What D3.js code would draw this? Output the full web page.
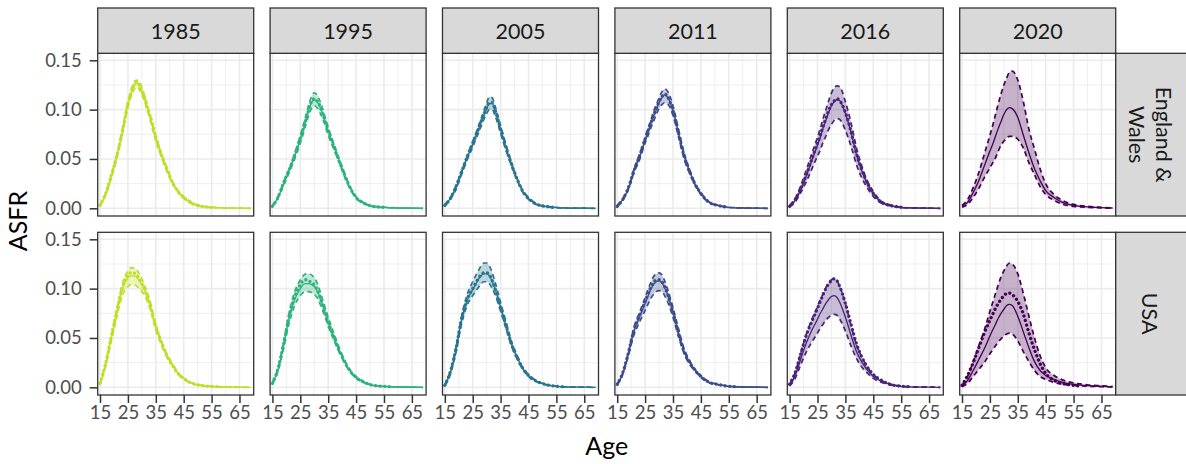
<!DOCTYPE html>
<html>
<head>
<meta charset="utf-8">
<style>
    body { margin: 0; background: #ffffff; }
    svg { font-family: Lato, "Open Sans", sans-serif; }
    .tick-label { fill: #4d4d4d; font-size: 18.5px; }
    .strip-label { fill: #1a1a1a; font-size: 21.5px; }
    .axis-title { fill: #000000; font-size: 25px; }
</style>
</head>
<body>
<svg width="1186" height="464"></svg>
<script src="https://d3js.org/d3.v7.min.js"></script>
<script>
    // facets
    var years = [1985, 1995, 2005, 2011, 2016, 2020];
    var countries = [['England &', 'Wales'], ['USA']];

    // ages for the fitted curves and for the observed rates
    var ages = [15, 17, 19, 21, 23, 25, 26, 27, 28, 29, 30, 31, 32, 33, 35, 37, 39, 41, 43, 45, 48, 51, 55, 60, 65, 69];
    var obsAges = [15, 17, 19, 21, 23, 25, 26, 27, 28, 29, 30, 31, 32, 33, 35, 37, 39, 41, 43, 45, 48, 51, 55, 58];

    var xTicks = [15, 25, 35, 45, 55, 65];
    var yTicks = [0, 0.05, 0.10, 0.15];

    // England & Wales: median, lower, upper, observed (one row per year)
    var medEW = [
        [0.003,0.014,0.032,0.052,0.078,0.105,0.115,0.123,0.127,0.125,0.119,0.111,0.102,0.092,0.071,0.054,0.039,0.026,0.017,0.011,0.005,0.002,0.001,0.0003,0.0001,0],
        [0.002,0.011,0.025,0.038,0.053,0.070,0.079,0.089,0.099,0.107,0.110,0.108,0.103,0.096,0.078,0.063,0.048,0.033,0.020,0.011,0.005,0.002,0.001,0.0003,0.0001,0],
        [0.003,0.010,0.021,0.036,0.051,0.065,0.072,0.079,0.087,0.094,0.101,0.106,0.106,0.099,0.080,0.061,0.044,0.029,0.017,0.010,0.004,0.002,0.0007,0.0002,0.0001,0],
        [0.002,0.009,0.020,0.038,0.052,0.069,0.077,0.085,0.093,0.100,0.107,0.112,0.115,0.113,0.099,0.076,0.053,0.037,0.024,0.015,0.006,0.003,0.001,0.0003,0.0001,0],
        [0.002,0.008,0.019,0.033,0.049,0.064,0.072,0.081,0.089,0.097,0.104,0.108,0.110,0.109,0.096,0.077,0.054,0.037,0.024,0.015,0.006,0.003,0.001,0.0003,0.0001,0],
        [0.002,0.006,0.016,0.028,0.043,0.058,0.065,0.073,0.081,0.088,0.095,0.100,0.102,0.101,0.092,0.074,0.056,0.040,0.028,0.018,0.011,0.006,0.003,0.0015,0.0007,0.0003]
    ];
    var loEW = [
        [0.002,0.013,0.030,0.050,0.075,0.102,0.112,0.119,0.123,0.121,0.115,0.108,0.099,0.089,0.068,0.052,0.037,0.025,0.016,0.010,0.0045,0.0018,0.0008,0.0002,0.0001,0],
        [0.0015,0.010,0.023,0.036,0.050,0.066,0.075,0.085,0.094,0.101,0.104,0.102,0.097,0.091,0.074,0.060,0.046,0.031,0.019,0.010,0.0045,0.0017,0.0008,0.0002,0.0001,0],
        [0.002,0.009,0.019,0.034,0.049,0.062,0.069,0.076,0.083,0.090,0.096,0.100,0.100,0.094,0.076,0.058,0.042,0.028,0.016,0.009,0.0035,0.0017,0.0005,0.0001,0.0001,0],
        [0.0015,0.008,0.019,0.036,0.049,0.066,0.073,0.081,0.088,0.095,0.101,0.105,0.107,0.106,0.094,0.072,0.050,0.035,0.023,0.014,0.0055,0.0027,0.0008,0.0002,0.0001,0],
        [0.0015,0.0065,0.016,0.027,0.040,0.053,0.059,0.067,0.073,0.080,0.085,0.089,0.091,0.090,0.079,0.063,0.044,0.030,0.020,0.012,0.005,0.0025,0.0008,0.0002,0.0001,0],
        [0.001,0.004,0.011,0.020,0.031,0.041,0.046,0.051,0.058,0.064,0.068,0.071,0.073,0.073,0.070,0.061,0.046,0.034,0.022,0.014,0.008,0.004,0.002,0.001,0.0005,0.0002]
    ];
    var hiEW = [
        [0.004,0.015,0.034,0.055,0.081,0.108,0.119,0.127,0.130,0.129,0.123,0.114,0.105,0.095,0.074,0.056,0.041,0.027,0.018,0.012,0.006,0.003,0.0012,0.0004,0.0001,0],
        [0.003,0.012,0.027,0.040,0.056,0.074,0.084,0.094,0.105,0.113,0.117,0.115,0.109,0.101,0.082,0.066,0.050,0.035,0.021,0.012,0.0055,0.0023,0.0011,0.0004,0.0001,0],
        [0.004,0.011,0.023,0.038,0.053,0.068,0.075,0.083,0.091,0.099,0.107,0.113,0.112,0.104,0.084,0.064,0.046,0.030,0.018,0.011,0.0045,0.0023,0.0009,0.0003,0.0001,0],
        [0.003,0.010,0.021,0.040,0.055,0.072,0.081,0.089,0.098,0.105,0.112,0.118,0.121,0.119,0.104,0.080,0.056,0.039,0.025,0.016,0.0065,0.0033,0.0012,0.0004,0.0001,0],
        [0.003,0.010,0.023,0.039,0.056,0.072,0.081,0.091,0.100,0.109,0.117,0.122,0.124,0.123,0.108,0.087,0.061,0.042,0.027,0.017,0.007,0.0035,0.0012,0.0004,0.0001,0],
        [0.003,0.009,0.021,0.036,0.055,0.074,0.084,0.095,0.106,0.116,0.125,0.132,0.138,0.139,0.130,0.108,0.080,0.060,0.040,0.025,0.014,0.008,0.004,0.002,0.0009,0.0004]
    ];
    var obsEW = [
        [0.003,0.015,0.033,0.053,0.077,0.106,0.116,0.124,0.128,0.126,0.118,0.112,0.101,0.093,0.072,0.054,0.040,0.026,0.017,0.011,0.005,0.002,0.001],
        [0.002,0.011,0.026,0.039,0.054,0.071,0.080,0.090,0.100,0.108,0.111,0.109,0.104,0.096,0.079,0.063,0.047,0.033,0.020,0.011,0.005,0.002,0.001],
        [0.003,0.010,0.022,0.037,0.052,0.066,0.073,0.080,0.088,0.095,0.102,0.107,0.107,0.100,0.080,0.061,0.044,0.029,0.017,0.010,0.004,0.002,0.0007],
        [0.002,0.009,0.021,0.038,0.053,0.070,0.078,0.086,0.094,0.101,0.108,0.113,0.116,0.113,0.099,0.076,0.053,0.037,0.024,0.015,0.006,0.003,0.001],
        [0.002,0.009,0.020,0.034,0.050,0.066,0.074,0.083,0.091,0.099,0.105,0.109,0.111,0.109,0.097,0.078,0.055,0.038,0.025,0.015,0.006,0.003,0.001],
        null
    ];

    // USA
    var medUS = [
        [0.003,0.023,0.049,0.075,0.099,0.111,0.113,0.113,0.112,0.108,0.104,0.098,0.091,0.083,0.061,0.045,0.032,0.023,0.014,0.009,0.004,0.002,0.001,0.0003,0.0001,0],
        [0.004,0.018,0.042,0.070,0.089,0.100,0.104,0.105,0.105,0.104,0.102,0.098,0.091,0.083,0.066,0.051,0.037,0.025,0.016,0.010,0.005,0.002,0.001,0.0003,0.0001,0],
        [0.002,0.015,0.038,0.068,0.088,0.099,0.104,0.109,0.113,0.115,0.115,0.113,0.107,0.100,0.081,0.062,0.043,0.030,0.019,0.012,0.006,0.003,0.001,0.0003,0.0001,0],
        [0.003,0.014,0.034,0.057,0.071,0.085,0.092,0.099,0.104,0.107,0.108,0.106,0.101,0.094,0.076,0.055,0.036,0.025,0.017,0.011,0.005,0.003,0.001,0.0003,0.0001,0],
        [0.002,0.012,0.029,0.045,0.058,0.069,0.075,0.080,0.085,0.089,0.092,0.093,0.091,0.086,0.071,0.053,0.036,0.025,0.017,0.011,0.006,0.003,0.001,0.0003,0.0001,0],
        [0.001,0.007,0.017,0.028,0.039,0.052,0.058,0.064,0.070,0.075,0.079,0.083,0.084,0.083,0.072,0.056,0.040,0.026,0.017,0.012,0.008,0.005,0.003,0.0017,0.001,0.0005]
    ];
    var loUS = [
        [0.002,0.021,0.046,0.071,0.093,0.102,0.104,0.104,0.103,0.100,0.097,0.093,0.087,0.079,0.058,0.043,0.030,0.022,0.013,0.0085,0.0037,0.0018,0.0009,0.0002,0.0001,0],
        [0.003,0.016,0.039,0.065,0.083,0.093,0.096,0.097,0.097,0.096,0.094,0.091,0.085,0.078,0.062,0.048,0.035,0.024,0.015,0.009,0.0045,0.0018,0.0008,0.0002,0.0001,0],
        [0.0015,0.013,0.035,0.064,0.083,0.093,0.097,0.101,0.105,0.107,0.107,0.105,0.100,0.094,0.077,0.059,0.041,0.028,0.018,0.011,0.0055,0.0027,0.0009,0.0002,0.0001,0],
        [0.002,0.013,0.032,0.053,0.066,0.078,0.084,0.090,0.094,0.097,0.098,0.097,0.093,0.087,0.071,0.051,0.034,0.023,0.016,0.010,0.0045,0.0027,0.0008,0.0002,0.0001,0],
        [0.0015,0.009,0.023,0.036,0.046,0.055,0.060,0.064,0.068,0.071,0.073,0.074,0.073,0.069,0.057,0.042,0.029,0.020,0.014,0.009,0.005,0.0025,0.0008,0.0002,0.0001,0],
        [0.0005,0.004,0.011,0.018,0.025,0.034,0.038,0.042,0.046,0.049,0.052,0.054,0.055,0.054,0.047,0.036,0.026,0.017,0.011,0.008,0.005,0.003,0.002,0.0011,0.0006,0.0003]
    ];
    var hiUS = [
        [0.004,0.025,0.052,0.079,0.105,0.118,0.121,0.121,0.120,0.115,0.110,0.103,0.096,0.087,0.064,0.047,0.034,0.024,0.015,0.0095,0.0045,0.0022,0.0011,0.0004,0.0001,0],
        [0.005,0.020,0.046,0.076,0.097,0.109,0.113,0.115,0.115,0.114,0.111,0.106,0.098,0.089,0.071,0.055,0.040,0.027,0.017,0.011,0.0055,0.0023,0.0011,0.0004,0.0001,0],
        [0.003,0.017,0.041,0.072,0.094,0.107,0.113,0.118,0.123,0.126,0.126,0.123,0.116,0.107,0.086,0.066,0.046,0.032,0.020,0.013,0.0065,0.0033,0.0011,0.0004,0.0001,0],
        [0.004,0.015,0.036,0.061,0.076,0.091,0.099,0.106,0.112,0.115,0.116,0.114,0.108,0.100,0.081,0.059,0.039,0.027,0.018,0.012,0.0055,0.0033,0.0012,0.0004,0.0001,0],
        [0.003,0.015,0.035,0.054,0.069,0.082,0.089,0.095,0.101,0.106,0.109,0.110,0.108,0.102,0.085,0.063,0.043,0.030,0.020,0.013,0.007,0.0035,0.0012,0.0004,0.0001,0],
        [0.002,0.011,0.026,0.042,0.058,0.077,0.086,0.095,0.104,0.112,0.118,0.123,0.126,0.125,0.115,0.095,0.072,0.050,0.032,0.020,0.012,0.0075,0.0045,0.0025,0.0015,0.0008]
    ];
    var obsUS = [
        [0.004,0.024,0.051,0.077,0.101,0.114,0.116,0.116,0.114,0.110,0.105,0.099,0.092,0.083,0.062,0.046,0.032,0.022,0.014,0.009,0.004,0.002,0.001,0.0005],
        [0.004,0.019,0.044,0.072,0.092,0.104,0.108,0.109,0.108,0.106,0.104,0.099,0.092,0.084,0.066,0.051,0.037,0.025,0.016,0.010,0.005,0.002,0.001,0.0005],
        [0.002,0.016,0.039,0.069,0.089,0.100,0.105,0.110,0.114,0.116,0.116,0.114,0.108,0.100,0.081,0.062,0.043,0.030,0.019,0.012,0.006,0.003,0.001,0.0005],
        [0.003,0.015,0.035,0.058,0.073,0.087,0.094,0.101,0.106,0.109,0.109,0.107,0.102,0.095,0.076,0.055,0.036,0.025,0.017,0.011,0.005,0.003,0.001,0.0005],
        [0.003,0.015,0.034,0.053,0.067,0.080,0.087,0.094,0.100,0.105,0.108,0.110,0.108,0.102,0.085,0.064,0.044,0.030,0.020,0.013,0.007,0.003,0.0012,0.0006],
        [0.002,0.012,0.025,0.040,0.055,0.068,0.074,0.080,0.085,0.089,0.093,0.095,0.0955,0.094,0.087,0.074,0.055,0.038,0.024,0.014,0.007,0.004,0.002,0.001]
    ];

    var rows = [
        {med: medEW, lo: loEW, hi: hiEW, obs: obsEW},
        {med: medUS, lo: loUS, hi: hiUS, obs: obsUS}
    ];

    // layout
    var panelLeft = 97.7, panelW = 156, panelStep = 172.4;
    var rowTop = [53.3, 232.3], panelH = 162.7;
    var stripTop = 8;

    var svg = d3.select('svg');

    var x = d3.scaleLinear().domain([14.17, 70.1]).range([0, panelW]);
    var y = d3.scaleLinear().domain([-0.0078, 0.1571]).range([panelH, 0]);

    // colour by year, viridis reversed, ending at 0.9
    var colour = d3.scaleSequential(function (t) { return d3.interpolateViridis(t * 0.9); })
        .domain([2020, 1985]);

    var line = d3.line()
        .x(function (d) { return x(d[0]); })
        .y(function (d) { return y(d[1]); })
        .curve(d3.curveMonotoneX);
    var area = d3.area()
        .x(function (d) { return x(d[0]); })
        .y0(function (d) { return y(d[1]); })
        .y1(function (d) { return y(d[2]); })
        .curve(d3.curveMonotoneX);

    svg.append('defs').append('clipPath').attr('id', 'clip')
        .append('rect').attr('width', panelW).attr('height', panelH);

    rows.forEach(function (r, ri) {
        years.forEach(function (yr, ci) {
            var g = svg.append('g')
                .attr('transform', 'translate(' + (panelLeft + ci * panelStep) + ',' + rowTop[ri] + ')');
            var col = colour(yr);

            g.append('rect').attr('width', panelW).attr('height', panelH).attr('fill', '#fff');

            // grid
            var gx = g.append('g');
            gx.selectAll('.vminor').data([20, 30, 40, 50, 60]).enter().append('line')
                .attr('x1', x).attr('x2', x).attr('y1', 0).attr('y2', panelH)
                .attr('stroke', '#ebebeb').attr('stroke-width', 0.8);
            gx.selectAll('.hminor').data([0.025, 0.075, 0.125]).enter().append('line')
                .attr('y1', y).attr('y2', y).attr('x1', 0).attr('x2', panelW)
                .attr('stroke', '#ebebeb').attr('stroke-width', 0.8);
            gx.selectAll('.vmajor').data(xTicks).enter().append('line')
                .attr('x1', x).attr('x2', x).attr('y1', 0).attr('y2', panelH)
                .attr('stroke', '#ebebeb').attr('stroke-width', 1.6);
            gx.selectAll('.hmajor').data(yTicks).enter().append('line')
                .attr('y1', y).attr('y2', y).attr('x1', 0).attr('x2', panelW)
                .attr('stroke', '#ebebeb').attr('stroke-width', 1.6);

            var body = g.append('g').attr('clip-path', 'url(#clip)');
            var band = ages.map(function (a, i) { return [a, r.lo[ci][i], r.hi[ci][i]]; });
            body.append('path').datum(band).attr('d', area)
                .attr('fill', col).attr('fill-opacity', 0.3);

            [r.lo[ci], r.hi[ci]].forEach(function (vals) {
                body.append('path')
                    .datum(ages.map(function (a, i) { return [a, vals[i]]; }))
                    .attr('d', line).attr('fill', 'none').attr('stroke', col)
                    .attr('stroke-width', 1.7).attr('stroke-dasharray', '5,3.5');
            });
            body.append('path')
                .datum(ages.map(function (a, i) { return [a, r.med[ci][i]]; }))
                .attr('d', line).attr('fill', 'none').attr('stroke', col).attr('stroke-width', 1.3);

            if (r.obs[ci]) {
                body.append('path')
                    .datum(r.obs[ci].map(function (v, i) { return [obsAges[i], v]; }))
                    .attr('d', line).attr('fill', 'none').attr('stroke', col)
                    .attr('stroke-width', 3.3).attr('stroke-linecap', 'round')
                    .attr('stroke-dasharray', '0.01,4.6');
            }

            g.append('rect').attr('width', panelW).attr('height', panelH)
                .attr('fill', 'none').attr('stroke', '#333333').attr('stroke-width', 1.3);

            // y axis on first column
            if (ci === 0) {
                var ya = d3.axisLeft(y).tickValues(yTicks).tickFormat(d3.format('.2f'))
                    .tickSize(8).tickPadding(8);
                var yg = g.append('g').call(ya);
                yg.select('.domain').remove();
                yg.selectAll('line').attr('stroke', '#333333').attr('stroke-width', 1.5);
                yg.selectAll('text').attr('class', 'tick-label').attr('fill', null);
                yg.attr('font-family', null).attr('font-size', null);
            }
            // x axis on bottom row
            if (ri === 1) {
                var xa = d3.axisBottom(x).tickValues(xTicks).tickSize(8).tickPadding(3);
                var xg = g.append('g').attr('transform', 'translate(0,' + panelH + ')').call(xa);
                xg.select('.domain').remove();
                xg.selectAll('line').attr('stroke', '#333333').attr('stroke-width', 1.5);
                xg.selectAll('text').attr('class', 'tick-label').attr('fill', null);
                xg.attr('font-family', null).attr('font-size', null);
            }
            // top strips
            if (ri === 0) {
                var s = svg.append('g')
                    .attr('transform', 'translate(' + (panelLeft + ci * panelStep) + ',' + stripTop + ')');
                s.append('rect').attr('width', panelW).attr('height', rowTop[0] - stripTop)
                    .attr('fill', '#d9d9d9').attr('stroke', '#333333').attr('stroke-width', 1.3);
                s.append('text').attr('class', 'strip-label')
                    .attr('x', panelW / 2).attr('y', (rowTop[0] - stripTop) / 2 + 8)
                    .attr('text-anchor', 'middle').text(yr);
            }
        });

        // right strip
        var rx = panelLeft + 5 * panelStep + panelW;
        var rs = svg.append('g').attr('transform', 'translate(' + rx + ',' + rowTop[ri] + ')');
        rs.append('rect').attr('width', 90).attr('height', panelH)
            .attr('fill', '#d9d9d9').attr('stroke', '#333333').attr('stroke-width', 1.3);
        var lines = countries[ri];
        var t = rs.append('text').attr('class', 'strip-label')
            .attr('transform', 'translate(' + 34 + ',' + panelH / 2 + ') rotate(90)')
            .attr('text-anchor', 'middle');
        lines.forEach(function (l, li) {
            var off = (li - (lines.length - 1) / 2) * 27 - 7.5;
            t.append('tspan').attr('x', 0).attr('y', off + 15).text(l);
        });
    });

    // axis titles
    svg.append('text').attr('class', 'axis-title')
        .attr('transform', 'translate(27,221) rotate(-90)')
        .attr('text-anchor', 'middle').text('ASFR');
    svg.append('text').attr('class', 'axis-title')
        .attr('x', panelLeft + (5 * panelStep + panelW) / 2).attr('y', 455)
        .attr('text-anchor', 'middle').text('Age');
</script>
</body>
</html>
